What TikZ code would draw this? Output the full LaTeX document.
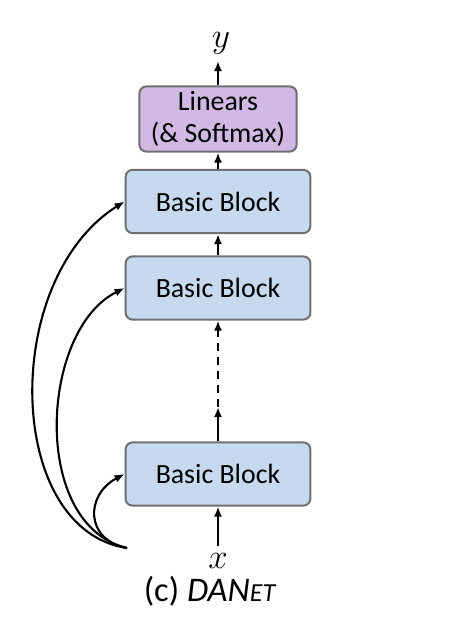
\documentclass[tikz,border=0pt]{standalone}
\usepackage{fontspec}
\setmainfont{Carlito}
\usepackage{tikz}
\usetikzlibrary{arrows.meta,positioning}
\definecolor{danetblock}{HTML}{C6D9EE}
\definecolor{danethead}{HTML}{D1B9E3}
\definecolor{danetedge}{HTML}{707070}

\begin{document}
\begin{tikzpicture}[x=0.025cm,y=-0.025cm,
  danetbox/.style={draw=danetedge,rounded corners=5pt,fill=danetblock,
    line width=1.4pt,minimum width=4.62cm,minimum height=1.58cm,
    align=center,font=\fontsize{19.8}{23}\selectfont,inner sep=2pt},
  danetflow/.style={-{Latex[length=2.5mm,width=2mm]},line width=1.5pt},
  danetvar/.style={font=\fontsize{33}{38}\selectfont,inner sep=2pt}
]
  \useasboundingbox (0,0) rectangle (448,638);

  \node[danetbox,fill=danethead,minimum width=3.93cm,minimum height=1.63cm]
    (head) at (218,119) {Linears\\(\& Softmax)};
  \node[danetbox] (bbtop) at (218,201.5) {Basic Block};
  \node[danetbox] (bbmid) at (218,288) {Basic Block};
  \node[danetbox] (bblow) at (218,474) {Basic Block};

  \node[danetvar] (yout) at (221,43) {$y$};
  \node[danetvar] (xin) at (218,561) {$x$};
  \node[font=\fontsize{24.5}{29}\selectfont] (caption) at (210,591)
    {(c) \textit{DAN{\fontsize{18.5}{21}\selectfont ET}}};

  \coordinate (gap) at (218,407);
  \coordinate (src) at (127,548);

  \draw[danetflow] (head.north) -- (218,61);
  \draw[danetflow] (bbtop) -- (head);
  \draw[danetflow] (bbmid) -- (bbtop);
  \draw[danetflow,dash pattern=on 0.2cm off 0.15cm] (gap) -- (bbmid.south);
  \draw[danetflow] (bblow.north) -- (gap);
  \draw[danetflow,shorten <=0.1cm] (xin) -- (bblow);

  \draw[danetflow] (src) .. controls (5,530) and (0,280) .. (bbtop.west);
  \draw[danetflow] (src) .. controls (30,525) and (40,330) .. (bbmid.west);
  \draw[danetflow] (src) .. controls (85,540) and (85,495) .. (bblow.west);
\end{tikzpicture}
\end{document}
